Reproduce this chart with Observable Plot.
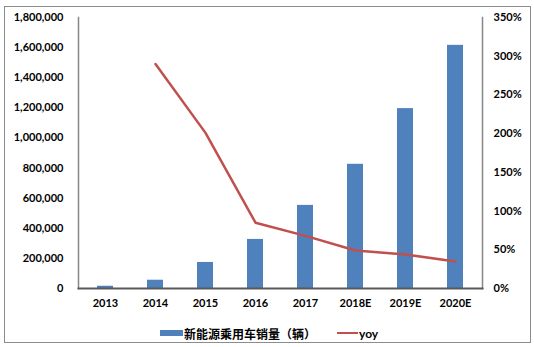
<!DOCTYPE html>
<html><head><meta charset="utf-8">
<script src="https://cdn.jsdelivr.net/npm/d3@7"></script>
<script src="https://cdn.jsdelivr.net/npm/@observablehq/plot@0.6"></script>
<style>
body{margin:0;background:#fff;}
#wrap{position:relative;width:534px;height:347px;font-family:Lato,"Noto Sans CJK SC",sans-serif;overflow:hidden;}
#frame{position:absolute;left:4px;top:6px;width:527px;height:337px;border:1px solid #8c8c8c;box-sizing:border-box;}
#chart{position:absolute;left:0;top:0;}
#legend{position:absolute;top:324px;left:160px;display:flex;align-items:center;font-weight:bold;font-size:12px;height:18px;color:#000;}
.sw{display:inline-block;width:23px;height:6px;background:#4F81BD;margin-right:1px;}
.ln{display:inline-block;width:21px;height:2px;background:#C0504D;margin-left:21px;margin-right:1px;}
</style></head>
<body>
<div id="wrap"><div id="frame"></div><div id="chart"></div>
<div id="legend"><span class="sw"></span><span>新能源乘用车销量（辆）</span><span class="ln"></span><span>yoy</span></div>
</div>
<script>
const years = ["2013","2014","2015","2016","2017","2018E","2019E","2020E"];
const sales = [15000, 55000, 173000, 326000, 552000, 825000, 1195000, 1615000];
const yoyYears = ["2014","2015","2016","2017","2018E","2019E","2020E"];
const yoy = [2.90, 2.01, 0.85, 0.68, 0.49, 0.44, 0.35];
const leftTicks = [0,200000,400000,600000,800000,1000000,1200000,1400000,1600000,1800000];
const rightTicks = [0,0.5,1,1.5,2,2.5,3,3.5];
const leftMax = 1800000, rightMax = 3.5;
const ratio = leftMax / rightMax;

const barData = years.map((y,i)=>({year:y, sales:sales[i]}));
const lineData = yoyYears.map((y,i)=>({year:y, yoy:yoy[i]}));

const chart = Plot.plot({
  width:534, height:318,
  marginLeft:78, marginRight:52, marginTop:17, marginBottom:30,
  style:{fontFamily:'Lato,"Noto Sans CJK SC",sans-serif', fontSize:"11px", fontWeight:"bold", color:"#000", background:"transparent"},
  x:{type:"band", domain:years, paddingInner:0.68, paddingOuter:0.34},
  y:{domain:[0,leftMax]},
  marks:[
    Plot.barY(barData,{x:"year", y:"sales", fill:"#4F81BD"}),
    Plot.line(lineData,{x:"year", y:d=>d.yoy*ratio, stroke:"#C0504D", strokeWidth:2.5}),
    Plot.axisY({anchor:"left", ticks:leftTicks, tickSize:0, tickPadding:15, tickFormat:d3.format(","), label:null}),
    Plot.axisY({anchor:"right", ticks:rightTicks.map(t=>t*ratio), tickSize:0, tickPadding:11, tickFormat:d=>Math.round(d/ratio*100)+"%", label:null}),
    Plot.axisX({tickSize:0, tickPadding:11, label:null}),
    Plot.frame({anchor:"left", stroke:"#868686", strokeWidth:1.5}),
    Plot.frame({anchor:"right", stroke:"#868686", strokeWidth:1.5}),
    Plot.frame({anchor:"bottom", stroke:"#595959", strokeWidth:2})
  ]
});
document.getElementById("chart").appendChild(chart);
</script>
</body></html>
